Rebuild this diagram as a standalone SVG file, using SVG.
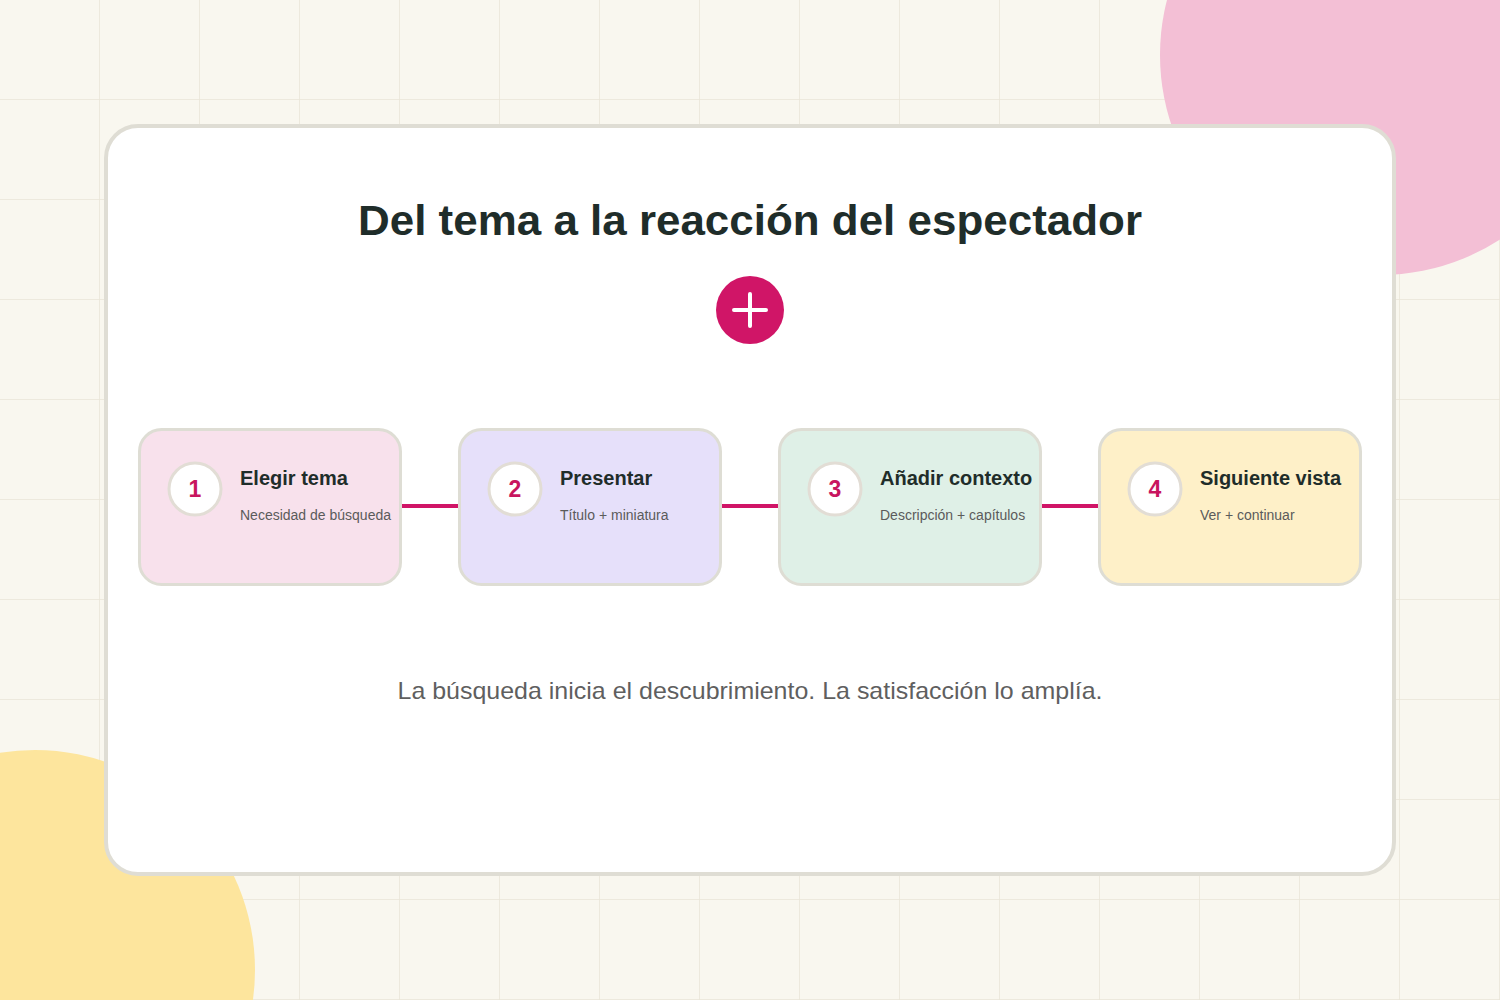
<svg xmlns="http://www.w3.org/2000/svg" width="1500" height="1000" viewBox="0 0 1500 1000">
<defs>
<pattern id="grid" width="100" height="100" patternUnits="userSpaceOnUse">
<path d="M100 0 V100 M0 100 H100" fill="none" stroke="#e9e5d7" stroke-width="1.5"/>
</pattern>
<style>
.node rect.box{stroke:#deddd4;stroke-width:3}
.num-c{fill:#fff;stroke:#e2ddd5;stroke-width:3}
.num{font-family:"Liberation Sans",Arial,sans-serif;font-weight:700;font-size:23px;fill:#c8155f;text-anchor:middle}
.t{font-family:"Liberation Sans",Arial,sans-serif;font-weight:700;font-size:20px;fill:#1f2d2a}
.s{font-family:"Liberation Sans",Arial,sans-serif;font-size:14px;fill:#5b5b5b}
.conn line{stroke:#d01567;stroke-width:4}
</style>
</defs>
<rect width="1500" height="1000" fill="#f9f7ef"/>
<rect width="1500" height="1000" fill="url(#grid)"/>
<circle cx="1380" cy="55" r="220" fill="#f3bfd5"/>
<circle cx="35" cy="970" r="220" fill="#fde59d"/>
<rect x="106" y="126" width="1288" height="748" rx="32" fill="#ffffff" stroke="#dfddd4" stroke-width="4"/>
<text x="750" y="235" text-anchor="middle" font-family="'Liberation Sans',Arial,sans-serif" font-weight="700" font-size="43" textLength="784" lengthAdjust="spacingAndGlyphs" fill="#1f2d2a">Del tema a la reacción del espectador</text>
<g id="plus-icon">
<circle cx="750" cy="310" r="34" fill="#d01567"/>
<path d="M750 294 V326 M734 310 H766" stroke="#fff" stroke-width="4" stroke-linecap="round"/>
</g>
<g class="conn" id="connectors">
<line x1="401" y1="506" x2="459" y2="506"/>
<line x1="721" y1="506" x2="779" y2="506"/>
<line x1="1041" y1="506" x2="1099" y2="506"/>
</g>
<g class="node" id="node1">
<rect class="box" x="139.5" y="429.5" width="261" height="155" rx="22" fill="#f8e1ec"/>
<circle class="num-c" cx="195" cy="489" r="26"/>
<text class="num" x="195" y="497">1</text>
<text class="t" x="240" y="485">Elegir tema</text>
<text class="s" x="240" y="520">Necesidad de búsqueda</text>
</g>
<g class="node" id="node2">
<rect class="box" x="459.5" y="429.5" width="261" height="155" rx="22" fill="#e6e0fa"/>
<circle class="num-c" cx="515" cy="489" r="26"/>
<text class="num" x="515" y="497">2</text>
<text class="t" x="560" y="485">Presentar</text>
<text class="s" x="560" y="520">Título + miniatura</text>
</g>
<g class="node" id="node3">
<rect class="box" x="779.5" y="429.5" width="261" height="155" rx="22" fill="#dff0e7"/>
<circle class="num-c" cx="835" cy="489" r="26"/>
<text class="num" x="835" y="497">3</text>
<text class="t" x="880" y="485">Añadir contexto</text>
<text class="s" x="880" y="520">Descripción + capítulos</text>
</g>
<g class="node" id="node4">
<rect class="box" x="1099.5" y="429.5" width="261" height="155" rx="22" fill="#fef0c8"/>
<circle class="num-c" cx="1155" cy="489" r="26"/>
<text class="num" x="1155" y="497">4</text>
<text class="t" x="1200" y="485">Siguiente vista</text>
<text class="s" x="1200" y="520">Ver + continuar</text>
</g>
<text x="750" y="699" text-anchor="middle" font-family="'Liberation Sans',Arial,sans-serif" font-size="24" textLength="705" lengthAdjust="spacingAndGlyphs" fill="#5f5f5f">La búsqueda inicia el descubrimiento. La satisfacción lo amplía.</text>
</svg>
